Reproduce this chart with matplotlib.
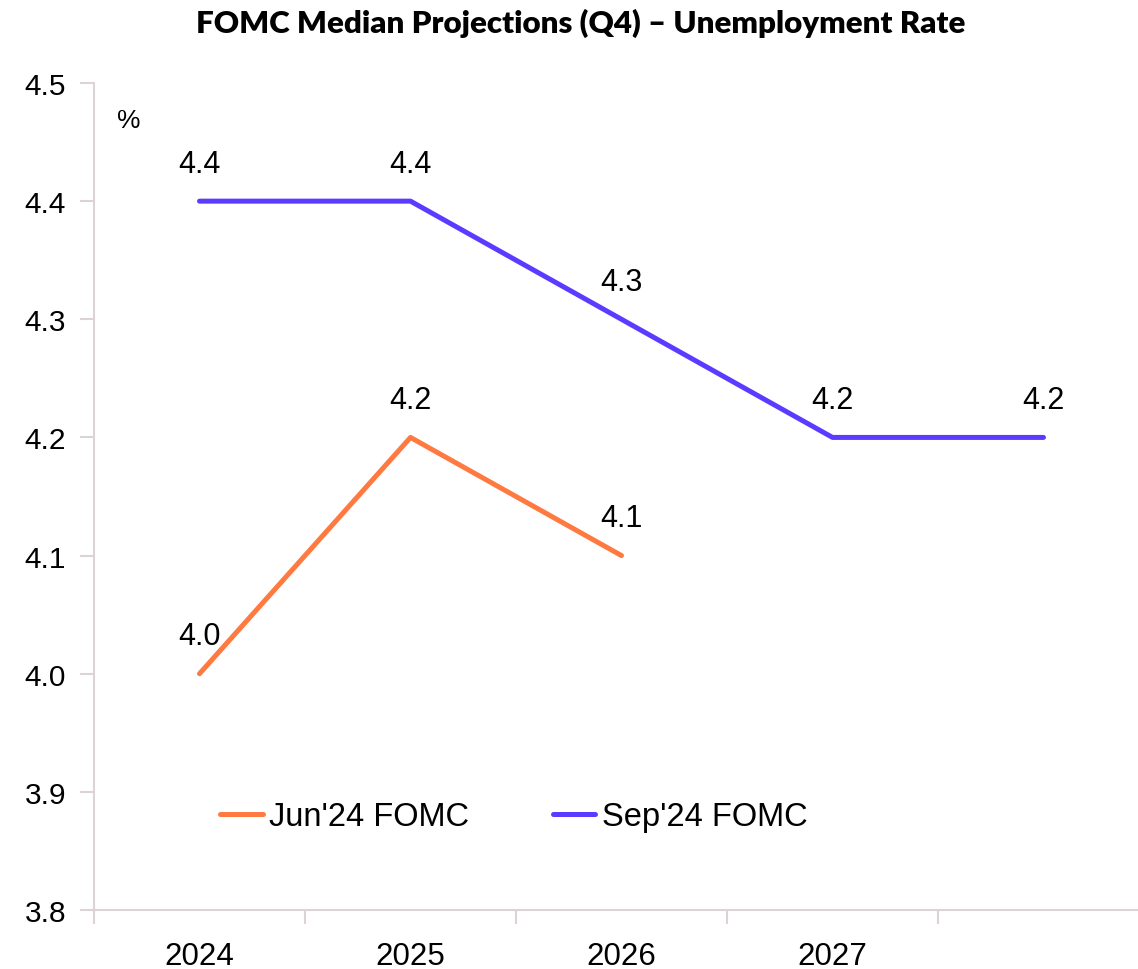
import numpy as np
import matplotlib.pyplot as plt

# Data
years = ["2024", "2025", "2026", "2027", ""]
jun_vals = [4.0, 4.2, 4.1]
sep_vals = [4.4, 4.4, 4.3, 4.2, 4.2]
jun_color = "#FF7A40"
sep_color = "#5B3BFF"
grid_color = "#DCD4D4"

plt.rcParams['font.family'] = ['Liberation Sans', 'DejaVu Sans']

fig = plt.figure(figsize=(11.38, 9.70), dpi=100)
# plot area runs slightly past the right edge of the figure
ax = fig.add_axes([94 / 1138, 1 - 911 / 970, (1149 - 94) / 1138, (911 - 84) / 970])

x_sep = np.arange(len(sep_vals))
x_jun = np.arange(len(jun_vals))
ax.plot(x_jun, jun_vals, color=jun_color, lw=3.6, label="Jun'24 FOMC", solid_capstyle="round")
ax.plot(x_sep, sep_vals, color=sep_color, lw=3.6, label="Sep'24 FOMC", solid_capstyle="round")

# value labels
for xs, vals in [(x_jun, jun_vals), (x_sep, sep_vals)]:
    for x, v in zip(xs, vals):
        ax.annotate(f"{v:.1f}", (x, v), xytext=(0, 16), textcoords="offset points",
                    ha="center", va="bottom", fontsize=22)

ax.set_xlim(-0.5, len(years) - 0.5)
ax.set_ylim(3.8, 4.5)
ax.set_yticks(np.arange(3.8, 4.51, 0.1))
ax.set_yticklabels([f"{t:.1f}" for t in np.arange(3.8, 4.51, 0.1)], fontsize=21.5)
ax.set_xticks(np.arange(len(years)))
ax.set_xticklabels(years, fontsize=22.5)
ax.set_xticks(np.arange(-0.5, len(years)), minor=True)
ax.tick_params(axis="x", which="major", length=0, pad=22)
ax.tick_params(axis="x", which="minor", length=10, color=grid_color, width=1.5)
ax.tick_params(axis="y", length=10, color=grid_color, width=1.5, pad=10)

for s in ["top", "right"]:
    ax.spines[s].set_visible(False)
for s in ["left", "bottom"]:
    ax.spines[s].set_color(grid_color)
    ax.spines[s].set_linewidth(1.5)

ax.text(0.022, 0.955, "%", transform=ax.transAxes, fontsize=19, ha="left", va="center")

leg = ax.legend(loc="center left", bbox_to_anchor=(0.092, 0.113), ncol=2, frameon=False,
                fontsize=23.5, handlelength=1.3, handletextpad=0.2, columnspacing=2.55)

fig.text(0.510, 0.976, "FOMC Median Projections (Q4) – Unemployment Rate",
         ha="center", va="center", fontsize=22.5, fontweight="heavy", family=["Lato", "DejaVu Sans"])

fig.savefig("out.png", dpi=100)
